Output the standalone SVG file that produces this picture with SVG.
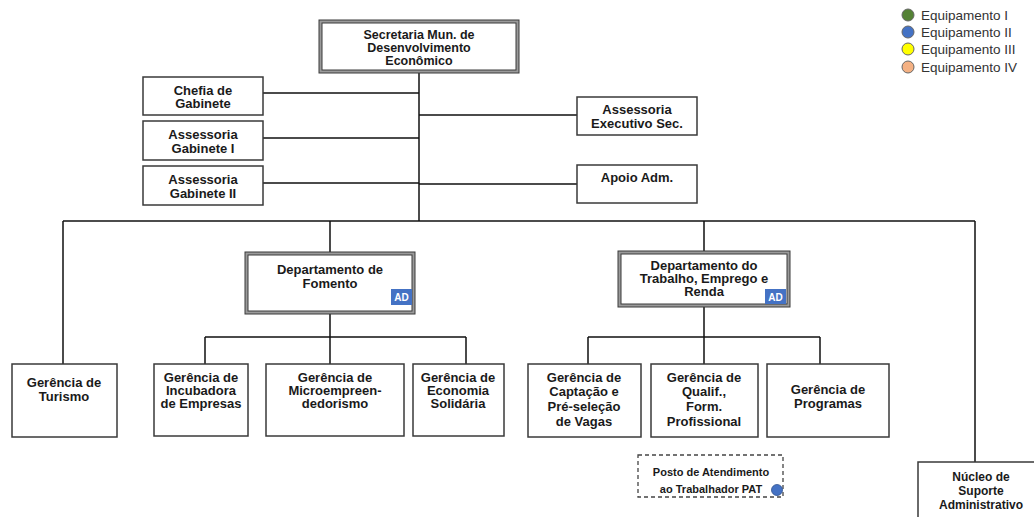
<svg xmlns="http://www.w3.org/2000/svg" width="1034" height="517" viewBox="0 0 1034 517">
<style>
.bx{fill:#fff;stroke:#3a3a3a;stroke-width:1.5}
.dbo{fill:#9a9a9a;stroke:#3a3a3a;stroke-width:1}
.dbi{fill:#fff;stroke:#3a3a3a;stroke-width:1}
.t{font-family:"Liberation Sans",Arial,sans-serif;font-weight:bold;font-size:13px;fill:#1a1a1a;text-anchor:middle}
.ln{stroke:#111;stroke-width:1.5;fill:none}
.ad{fill:#4472c4}
.adt{font-family:"Liberation Sans",Arial,sans-serif;font-weight:bold;font-size:10px;fill:#fff;text-anchor:middle}
.lg{font-family:"Liberation Sans",Arial,sans-serif;font-size:13.5px;fill:#333}
.dot{stroke:#666;stroke-width:1}
</style>
<g id="connectors">
<path class="ln" d="M419 73V221"/>
<path class="ln" d="M263 93H419M263 138H419M263 183H419"/>
<path class="ln" d="M419 115H577M419 184H577"/>
<path class="ln" d="M63 221H975"/>
<path class="ln" d="M63 221V364M330 221V252M704 221V252M975 221V462"/>
<path class="ln" d="M330 314V337M205 337H466M205 337V364M330 337V364M466 337V364"/>
<path class="ln" d="M704 307V337M588 337H820M588 337V364M704 337V364M820 337V364"/>
</g>
<g id="legend">
<circle class="dot" cx="908" cy="15" r="6" fill="#548235"/>
<circle class="dot" cx="908" cy="32" r="6" fill="#4472c4"/>
<circle class="dot" cx="908" cy="49" r="6" fill="#ffff00"/>
<circle class="dot" cx="908" cy="67" r="6" fill="#f4b183"/>
<text class="lg" x="921" y="20">Equipamento I</text>
<text class="lg" x="921" y="37">Equipamento II</text>
<text class="lg" x="921" y="54">Equipamento III</text>
<text class="lg" x="921" y="72">Equipamento IV</text>
</g>
<g id="secretaria">
<rect class="dbo" x="319" y="20" width="200" height="53"/>
<rect class="dbi" x="322" y="23" width="194" height="47"/>
<text class="t" x="419" y="39" style="font-size:12.5px">Secretaria Mun. de</text>
<text class="t" x="419" y="52" style="font-size:12.5px">Desenvolvimento</text>
<text class="t" x="419" y="65" style="font-size:12.5px">Econômico</text>
</g>
<g id="chefia">
<rect class="bx" x="143" y="77" width="120" height="38"/>
<text class="t" x="203" y="95">Chefia de</text>
<text class="t" x="203" y="108">Gabinete</text>
</g>
<g id="assessoria-gab-1">
<rect class="bx" x="143" y="121" width="120" height="39"/>
<text class="t" x="203" y="139">Assessoria</text>
<text class="t" x="203" y="153">Gabinete I</text>
</g>
<g id="assessoria-gab-2">
<rect class="bx" x="143" y="166" width="120" height="39"/>
<text class="t" x="203" y="184">Assessoria</text>
<text class="t" x="203" y="198">Gabinete II</text>
</g>
<g id="assessoria-exec">
<rect class="bx" x="577" y="97" width="120" height="38"/>
<text class="t" x="637" y="114">Assessoria</text>
<text class="t" x="637" y="128">Executivo Sec.</text>
</g>
<g id="apoio-adm">
<rect class="bx" x="577" y="165" width="120" height="38"/>
<text class="t" x="637" y="182">Apoio Adm.</text>
</g>
<g id="dep-fomento">
<rect class="dbo" x="245" y="252" width="170" height="62"/>
<rect class="dbi" x="248" y="255" width="164" height="56"/>
<text class="t" x="330" y="274">Departamento de</text>
<text class="t" x="330" y="288">Fomento</text>
<rect class="ad" x="391" y="289" width="21" height="16"/>
<text class="adt" x="401.5" y="301">AD</text>
</g>
<g id="dep-trabalho">
<rect class="dbo" x="618" y="251" width="172" height="56"/>
<rect class="dbi" x="621" y="254" width="166" height="50"/>
<text class="t" x="704" y="270">Departamento do</text>
<text class="t" x="704" y="283">Trabalho, Emprego e</text>
<text class="t" x="704" y="296">Renda</text>
<rect class="ad" x="765" y="289" width="21" height="15"/>
<text class="adt" x="775.5" y="300.5">AD</text>
</g>
<g id="ger-turismo">
<rect class="bx" x="12" y="364" width="105" height="73"/>
<text class="t" x="64" y="387">Gerência de</text>
<text class="t" x="64" y="401">Turismo</text>
</g>
<g id="ger-incubadora">
<rect class="bx" x="154" y="364" width="94" height="72"/>
<text class="t" x="201" y="382">Gerência de</text>
<text class="t" x="201" y="395">Incubadora</text>
<text class="t" x="201" y="408">de Empresas</text>
</g>
<g id="ger-micro">
<rect class="bx" x="266" y="364" width="138" height="72"/>
<text class="t" x="335" y="382">Gerência de</text>
<text class="t" x="335" y="395">Microempreen-</text>
<text class="t" x="335" y="408">dedorismo</text>
</g>
<g id="ger-economia">
<rect class="bx" x="413" y="364" width="91" height="72"/>
<text class="t" x="458" y="382">Gerência de</text>
<text class="t" x="458" y="395">Economia</text>
<text class="t" x="458" y="408">Solidária</text>
</g>
<g id="ger-captacao">
<rect class="bx" x="528" y="364" width="113" height="73"/>
<text class="t" x="584" y="382">Gerência de</text>
<text class="t" x="584" y="396">Captação e</text>
<text class="t" x="584" y="411">Pré-seleção</text>
<text class="t" x="584" y="426">de Vagas</text>
</g>
<g id="ger-qualif">
<rect class="bx" x="651" y="364" width="107" height="73"/>
<text class="t" x="704" y="382">Gerência de</text>
<text class="t" x="704" y="396">Qualif.,</text>
<text class="t" x="704" y="411">Form.</text>
<text class="t" x="704" y="426">Profissional</text>
</g>
<g id="ger-programas">
<rect class="bx" x="767" y="364" width="122" height="73"/>
<text class="t" x="828" y="394">Gerência de</text>
<text class="t" x="828" y="408">Programas</text>
</g>
<g id="pat">
<rect x="638" y="455" width="145" height="42" fill="#fff" stroke="#444" stroke-width="1.3" stroke-dasharray="4 3"/>
<text class="t" x="711" y="476" style="font-size:11px">Posto de Atendimento</text>
<text class="t" x="711" y="493" style="font-size:11px">ao Trabalhador PAT</text>
<circle cx="777" cy="490" r="5.5" fill="#4472c4" stroke="#2f528f" stroke-width="0.8"/>
</g>
<g id="nucleo">
<rect class="bx" x="918" y="462" width="120" height="60"/>
<text class="t" x="981" y="481" style="font-size:12px">Núcleo de</text>
<text class="t" x="981" y="495" style="font-size:12px">Suporte</text>
<text class="t" x="981" y="509" style="font-size:12px">Administrativo</text>
</g>
</svg>
